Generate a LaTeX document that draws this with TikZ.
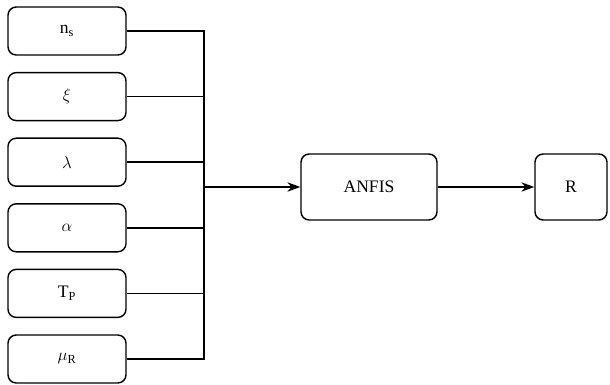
\documentclass[tikz,border=0pt]{standalone}
\usepackage{fontspec}
\setmainfont{Liberation Serif}
\usetikzlibrary{arrows.meta, positioning, calc}
\tikzset{
  inbox/.style  = {rectangle, rounded corners=7pt, draw=black, line width=1.2pt,
                   minimum width=3.54cm, minimum height=1.44cm},
  mainbox/.style= {rectangle, rounded corners=7pt, draw=black, line width=1.2pt,
                   minimum height=1.98cm},
  wire/.style   = {draw=black, line width=1.2pt},
  arrow/.style  = {-{Stealth[length=11pt, width=8pt]}, line width=1.2pt},
}
\begin{document}
\begin{tikzpicture}[every node/.style={font=\fontsize{15}{17}\selectfont}]
\useasboundingbox (0,0) rectangle (18.3,-11.55);

% Inputs
\foreach \i/\lbl in {1/{n$_{\mathrm{s}}$}, 2/{$\xi$}, 3/{$\lambda$},
                     4/{$\alpha$}, 5/{T$_{\mathrm{P}}$}, 6/{$\mu_{\mathrm{R}}$}}
  \node[inbox] (in\i) at (2.01, {-0.93-1.968*(\i-1)}) {\lbl};

% Model and output
\node[mainbox, minimum width=4.08cm] (anfis) at (11.07,-5.61) {ANFIS};
\node[mainbox, minimum width=2.16cm] (out)   at (17.13,-5.61) {R};

% Bus
\coordinate (bus) at (6.12,0);
\draw[wire] (in1.east) -- (in1.east -| bus) -- (in6.east -| bus) -- (in6.east);
\foreach \i in {2,...,5}
  \draw[wire] (in\i.east) -- (in\i.east -| bus);

% Arrows
\draw[arrow] (anfis.west -| bus) -- (anfis.west);
\draw[arrow] (anfis.east) -- (out.west);

\end{tikzpicture}
\end{document}
